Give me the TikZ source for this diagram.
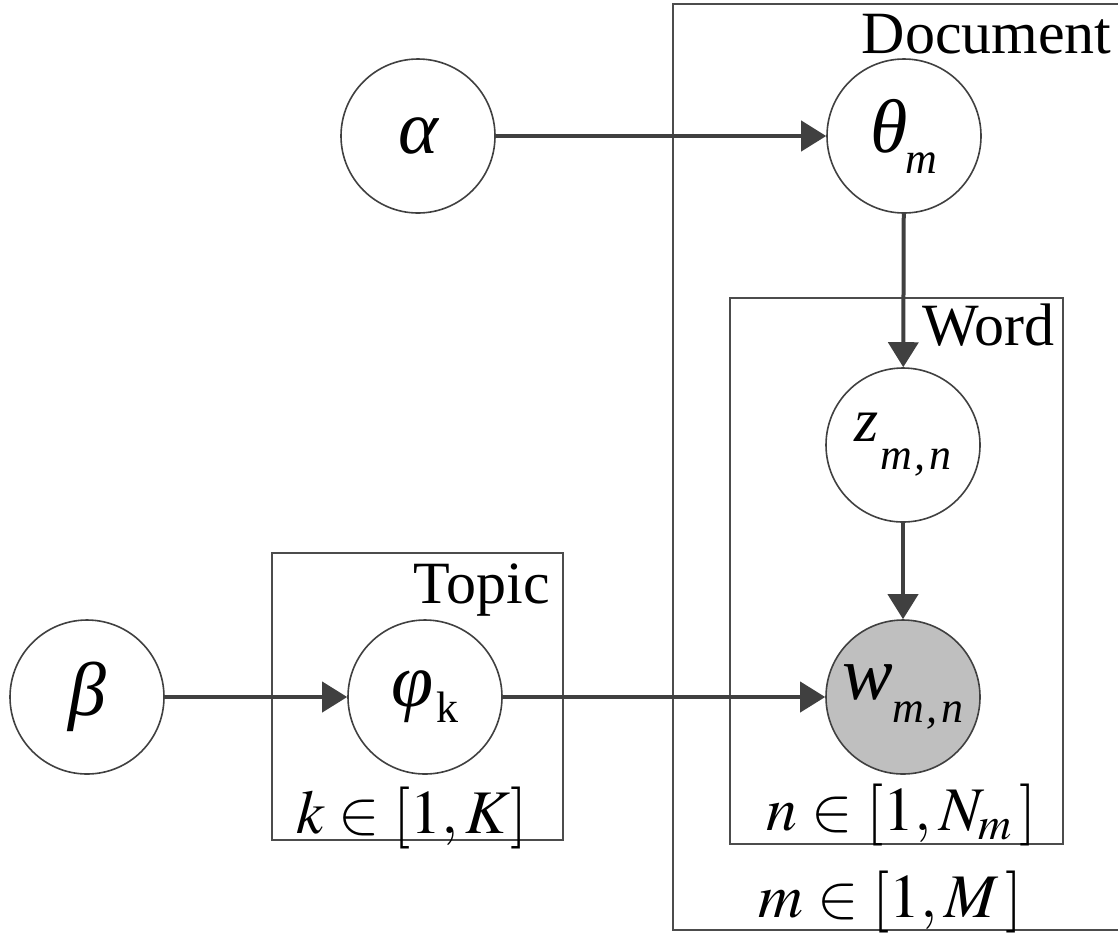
\documentclass[tikz,border=0pt]{standalone}
\usepackage{mathptmx}
\usepackage[no-math]{fontspec}
\setmainfont{Liberation Serif}
\usetikzlibrary{arrows.meta}
\newcommand{\subtxt}[2]{\raisebox{-#1}{\fontsize{22}{24}\selectfont #2}}
\begin{document}
\begin{tikzpicture}[x=0.5pt,y=-0.5pt,
  var/.style={circle,draw=black!75,line width=0.8pt,minimum size=77pt,inner sep=0pt,font=\fontsize{38}{40}\selectfont\itshape},
  obs/.style={var,fill=black!25},
  plate/.style={draw=black!70,line width=1pt},
  platelabel/.style={font=\fontsize{30}{32}\selectfont,inner sep=0pt},
  platemath/.style={font=\fontsize{31}{34}\selectfont,inner sep=0pt},
  link/.style={draw=black!75,line width=2pt,-{Triangle[length=12.5pt,width=15pt]}}]
\useasboundingbox (0,0) rectangle (1118,933);
% plates
\draw[plate,line width=1.4pt] (1130,4) -- (673,4) -- (673,930) -- (1130,930);
\draw[plate] (730,298) rectangle (1063,844);
\draw[plate] (272,553) rectangle (563,840);
% plate labels
\node[platelabel,anchor=base east] (ldoc) at (1112,53) {Document};
\node[platelabel,anchor=base east] (lword) at (1055,345) {Word};
\node[platelabel,anchor=base east] (ltopic) at (550,603) {Topic};
\node[platemath,anchor=base] (rn) at (902,830) {$n\in[1,N_{m}\,]$};
\node[platemath,anchor=base] (rm) at (891,917) {$m\in[1,M\,]$};
\node[platemath,anchor=base] (rk) at (412,833) {$k\in[1,K]$};
% variables
\node[var] (alpha) at (418,136) {α};
\node[var] (theta) at (904,136) {θ\hspace{-1pt}\subtxt{10.5pt}{m}};
\node[var] (z) at (903,445) {\fontsize{31}{33}\selectfont z\hspace{1pt}\subtxt{14pt}{m\hspace{1pt},\hspace{2pt}n}};
\node[obs] (w) at (903,697) {w\subtxt{11.5pt}{m\hspace{1pt},\hspace{2pt}n}};
\node[var] (beta) at (87,697) {β};
\node[var] (phi) at (425,697) {φ\hspace{1pt}\subtxt{8pt}{\upshape k}};
% links
\draw[link] (alpha) -- (theta);
\draw[link] (theta) -- (z);
\draw[link] (z) -- (w);
\draw[link] (beta) -- (phi);
\draw[link] (phi) -- (w);
\end{tikzpicture}
\end{document}
